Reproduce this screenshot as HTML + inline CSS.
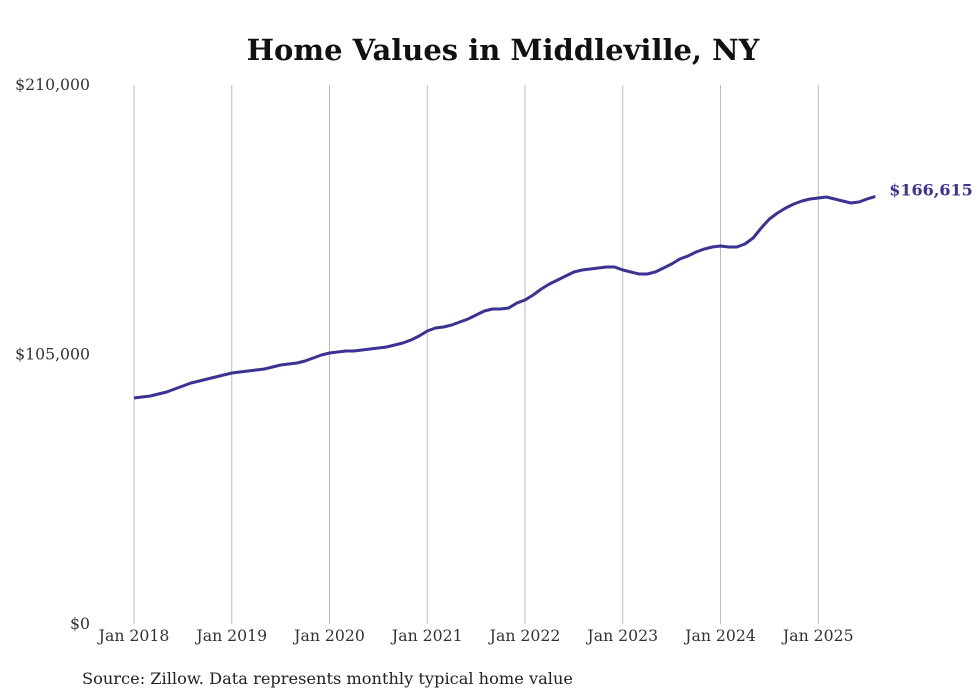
<!DOCTYPE html>
<html><head><meta charset="utf-8"><style>
body{margin:0;background:#fff;width:980px;height:699px;overflow:hidden}
svg{display:block}
</style></head><body>
<svg id="chart" width="980" height="699">
<text x="503" y="60" text-anchor="middle" font-family="DejaVu Serif, Liberation Serif, serif" font-weight="bold" font-size="29" fill="#111">Home Values in Middleville, NY</text>
<g id="grid"></g>
<g id="yaxis"></g>
<g id="xaxis"></g>
<path id="line" fill="none" stroke="#3a3393" stroke-width="3" stroke-linejoin="round"/>
<text id="endlabel" font-family="DejaVu Serif, Liberation Serif, serif" font-weight="bold" font-size="16" fill="#3a3393"></text>
<text x="82" y="684" font-family="DejaVu Serif, Liberation Serif, serif" font-size="16" fill="#222" textLength="491" lengthAdjust="spacingAndGlyphs">Source: Zillow. Data represents monthly typical home value</text>
</svg>
<script>
const yTicks=[0,105000,210000];
const yTickLabels=["$0","$105,000","$210,000"];
const xYears=[2018,2019,2020,2021,2022,2023,2024,2025];
const xTickLabels=["Jan 2018","Jan 2019","Jan 2020","Jan 2021","Jan 2022","Jan 2023","Jan 2024","Jan 2025"];
const startYear=2018;
const values=[
88050,88440,88830,89610,90390,91560,92720,93890,94670,95450,96230,97010,
97790,98180,98570,98960,99350,100130,100910,101300,101690,102460,103630,104800,
105580,105970,106360,106360,106750,107140,107530,107920,108700,109480,110650,112200,
114150,115320,115710,116490,117660,118830,120390,121940,122720,122720,123110,125060,
126230,128180,130520,132460,134020,135580,137140,137920,138310,138700,139090,139090,
137920,137140,136360,136360,137140,138700,140260,142200,143370,144930,146100,146880,
147270,146880,146880,148050,150390,154280,157790,160130,162070,163630,164800,165580,
165970,166360,165580,164800,164020,164410,165580,166615];
const endLabel="$166,615";
const NS="http://www.w3.org/2000/svg";
const x=t=>134+(t-startYear)*97.75;
const y=v=>624-v/210000*539;
const grid=document.getElementById('grid'),ya=document.getElementById('yaxis'),xa=document.getElementById('xaxis');
xYears.forEach((yr,i)=>{
 const l=document.createElementNS(NS,'line');
 l.setAttribute('x1',x(yr));l.setAttribute('x2',x(yr));l.setAttribute('y1',85);l.setAttribute('y2',624);
 l.setAttribute('stroke','#bbb');l.setAttribute('stroke-width','1');
 
 
 grid.appendChild(l);
 const t=document.createElementNS(NS,'text');
 t.setAttribute('x',x(yr));t.setAttribute('y',641);t.setAttribute('text-anchor','middle');
 t.setAttribute('font-family','DejaVu Serif, Liberation Serif, serif');t.setAttribute('font-size','15.7');t.setAttribute('fill','#333');
 t.textContent=xTickLabels[i];
 
 
 xa.appendChild(t);
});
yTicks.forEach((v,i)=>{
 const t=document.createElementNS(NS,'text');
 t.setAttribute('x',90);t.setAttribute('y',y(v)+5);t.setAttribute('text-anchor','end');
 t.setAttribute('font-family','DejaVu Serif, Liberation Serif, serif');t.setAttribute('font-size','15.7');t.setAttribute('fill','#333');
 t.textContent=yTickLabels[i];
 
 
 ya.appendChild(t);
});
let d='';
values.forEach((v,i)=>{d+=(i?'L':'M')+x(startYear+i/12).toFixed(1)+','+y(v).toFixed(1);});
document.getElementById('line').setAttribute('d',d);
const n=values.length-1;
const el=document.getElementById('endlabel');
el.setAttribute('x',x(startYear+n/12)+14);el.setAttribute('y',y(values[n])-1);
el.textContent=endLabel;
</script>
</body></html>
